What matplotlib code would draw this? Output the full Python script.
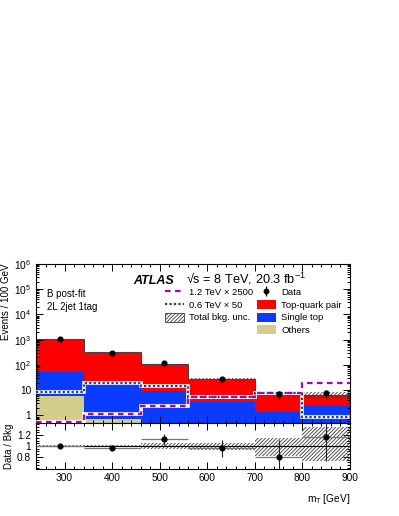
import numpy as np
import matplotlib
matplotlib.use("Agg")
import matplotlib.pyplot as plt
from matplotlib.patches import Patch
from matplotlib.lines import Line2D
from matplotlib.ticker import FixedLocator, FuncFormatter, MultipleLocator, LogLocator, NullFormatter

plt.rcParams['font.family'] = ['Liberation Sans', 'DejaVu Sans']
plt.rcParams['mathtext.fontset'] = 'custom'
plt.rcParams['mathtext.rm'] = 'Liberation Sans'
plt.rcParams['mathtext.it'] = 'Liberation Sans:italic'
plt.rcParams['hatch.linewidth'] = 0.6

# ---- data ----
bin_edges = [240, 340, 460, 560, 700, 800, 900]
bin_centers = [290, 400, 510, 630, 750, 850]
others = [5.7, 0.72, 0.2, 0.1, 0.07, 0.05]
single_top = [47, 18.8, 8.8, 3.2, 1.3, 2.35]
top_pair = [1000, 300, 99, 25.7, 7.1, 4.1]
sig_12 = [0.56, 1.14, 2.4, 5.2, 8.0, 19.5]      # 1.2 TeV x 2500
sig_06 = [8.2, 20, 14.7, 5.5, 7.5, 0.83]        # 0.6 TeV x 50
data = [1060, 310, 121, 27.5, 6.8, 7.6]
data_err = [32, 16, 11, 4.4, 2.6, 2.8]
ratio = [1.0, 0.97, 1.12, 0.955, 0.795, 1.16]
ratio_err = [0.03, 0.05, 0.10, 0.15, 0.31, 0.43]
unc_up = [0.02, 0.02, 0.05, 0.06, 0.14, 0.34]
unc_dn = [0.02, 0.02, 0.05, 0.08, 0.19, 0.28]

edges = np.array(bin_edges, float)
widths = np.diff(edges)
oth = np.array(others)
st = np.array(single_top)
tt = np.array(top_pair)
total = oth + st + tt
up = np.array(unc_up)
dn = np.array(unc_dn)

C_RED = '#ff0000'
C_BLUE = '#0a3cff'
C_OLIVE = '#d4cd8c'
C_MAG = '#b400b4'
C_NAVY = '#1c3d8c'
C_HATCH = '#3a3a3a'
HATCH = '/////////'

W, H = 399, 516
fig = plt.figure(figsize=(W / 100, H / 100), dpi=100)
L, R = 36 / W, 350 / W
ax = fig.add_axes([L, 1 - 423 / H, R - L, (423 - 264) / H])
rx = fig.add_axes([L, 1 - 469 / H, R - L, (469 - 423) / H], sharex=ax)

# stack
base = 1e-3
ax.stairs(oth, edges, baseline=base, fill=True, color=C_OLIVE, zorder=1)
ax.stairs(oth + st, edges, baseline=oth, fill=True, color=C_BLUE, zorder=1)
ax.stairs(total, edges, baseline=oth + st, fill=True, color=C_RED, zorder=1)
ax.stairs(total, edges, baseline=None, color='#444444', lw=0.8, zorder=2)
# uncertainty band
ax.bar(edges[:-1], total * (up + dn), bottom=total * (1 - dn), width=widths, align='edge',
       facecolor='none', edgecolor=C_HATCH, hatch=HATCH, linewidth=0, zorder=3)

# signals
ax.stairs(sig_06, edges, baseline=None, color='white', lw=2.6, zorder=4)
ax.stairs(sig_06, edges, baseline=None, color=C_NAVY, lw=1.6, linestyle=(0, (1, 1)), zorder=5)
ax.stairs(sig_12, edges, baseline=None, color='white', lw=2.6, zorder=4)
ax.stairs(sig_12, edges, baseline=None, color=C_MAG, lw=1.6, linestyle=(0, (2.5, 2)), zorder=6)

# data
ax.errorbar(bin_centers, data, yerr=data_err, fmt='o', color='black', ms=3.4, lw=0.9,
            capsize=0, zorder=7)

ax.set_yscale('log')
ax.set_ylim(0.5, 1e6)
ax.set_xlim(240, 900)
ax.yaxis.set_major_locator(FixedLocator([1, 10, 100, 1e3, 1e4, 1e5, 1e6]))
labels = {1: '1', 10: '10', 100: '10$^{2}$', 1e3: '10$^{3}$', 1e4: '10$^{4}$', 1e5: '10$^{5}$', 1e6: '10$^{6}$'}
ax.yaxis.set_major_formatter(FuncFormatter(lambda v, p: labels.get(v, '')))
ax.yaxis.set_minor_locator(LogLocator(base=10, subs=np.arange(2, 10), numticks=20))
ax.yaxis.set_minor_formatter(NullFormatter())
ax.set_ylabel('Events / 100 GeV', loc='top', fontsize=7, labelpad=2)

for a in (ax, rx):
    a.xaxis.set_major_locator(MultipleLocator(100))
    a.xaxis.set_minor_locator(MultipleLocator(20))
    a.tick_params(which='both', direction='in', top=True, right=True, labelsize=7.3, width=0.7)
    a.tick_params(which='major', length=5)
    a.tick_params(which='minor', length=2.5)
    for s in a.spines.values():
        s.set_linewidth(0.8)
ax.tick_params(labelbottom=False)

# ratio panel
rx.bar(edges[:-1], up + dn, bottom=1 - dn, width=widths, align='edge',
       facecolor='none', edgecolor=C_HATCH, hatch=HATCH, linewidth=0, zorder=2)
rx.axhline(1.0, color='black', lw=0.8, zorder=3)
rx.errorbar(bin_centers, ratio, xerr=widths / 2, fmt='none', ecolor='#777777', lw=0.9,
            capsize=0, zorder=4)
rx.errorbar(bin_centers, ratio, yerr=ratio_err, fmt='o', color='black',
            ecolor='#222222', ms=3.4, lw=0.8, capsize=0, zorder=5)
rx.set_ylim(0.58, 1.42)
rx.yaxis.set_major_locator(FixedLocator([0.8, 1.0, 1.2]))
rx.yaxis.set_major_formatter(FuncFormatter(lambda v, p: {0.8: '0.8', 1.0: '1', 1.2: '1.2'}.get(round(v, 1), '')))
rx.yaxis.set_minor_locator(MultipleLocator(0.05))
rx.set_xlim(240, 900)
rx.set_ylabel('Data / Bkg', fontsize=7, labelpad=2)
rx.set_xlabel('m$_{\\mathrm{T}}$ [GeV]', loc='right', fontsize=7.3, labelpad=6)
rx.tick_params(axis='x', pad=3)

# texts
ax.text(0.309, 0.875, 'ATLAS', transform=ax.transAxes, fontsize=9, fontweight='bold',
        fontstyle='italic', va='baseline', ha='left')
ax.text(0.478, 0.875, '\u221as = 8 TeV, 20.3 fb$^{-1}$', transform=ax.transAxes, fontsize=9.2,
        va='baseline', ha='left')
ax.text(0.035, 0.81, 'B post-fit', transform=ax.transAxes, fontsize=7, va='center')
ax.text(0.035, 0.73, '2L 2jet 1tag', transform=ax.transAxes, fontsize=7, va='center')

# legend
h_mag = Line2D([], [], color=C_MAG, lw=1.6, linestyle=(0, (2.5, 2)))
h_navy = Line2D([], [], color=C_NAVY, lw=1.6, linestyle=(0, (1, 1)))
h_unc = Patch(facecolor='white', edgecolor=C_HATCH, hatch=HATCH, linewidth=0.6)
h_blank = Patch(facecolor='none', edgecolor='none')
h_tt = Patch(facecolor=C_RED, edgecolor='none')
h_st = Patch(facecolor=C_BLUE, edgecolor='none')
h_oth = Patch(facecolor=C_OLIVE, edgecolor='none')
eb = ax.errorbar([], [], yerr=[], fmt='o', color='black', ms=3.2, lw=0.9)
leg = ax.legend([h_mag, h_navy, h_unc, h_blank, eb, h_tt, h_st, h_oth],
                ['1.2 TeV \u00d7 2500', '0.6 TeV \u00d7 50', 'Total bkg. unc.', '',
                 'Data', 'Top-quark pair', 'Single top', 'Others'],
                ncol=2, loc='upper left', bbox_to_anchor=(0.41, 0.855), frameon=False,
                fontsize=6.8, handlelength=2.0, handleheight=1.1, handletextpad=0.6,
                columnspacing=0.35, labelspacing=0.32, borderpad=0, borderaxespad=0)

fig.savefig('out.png', dpi=100)
